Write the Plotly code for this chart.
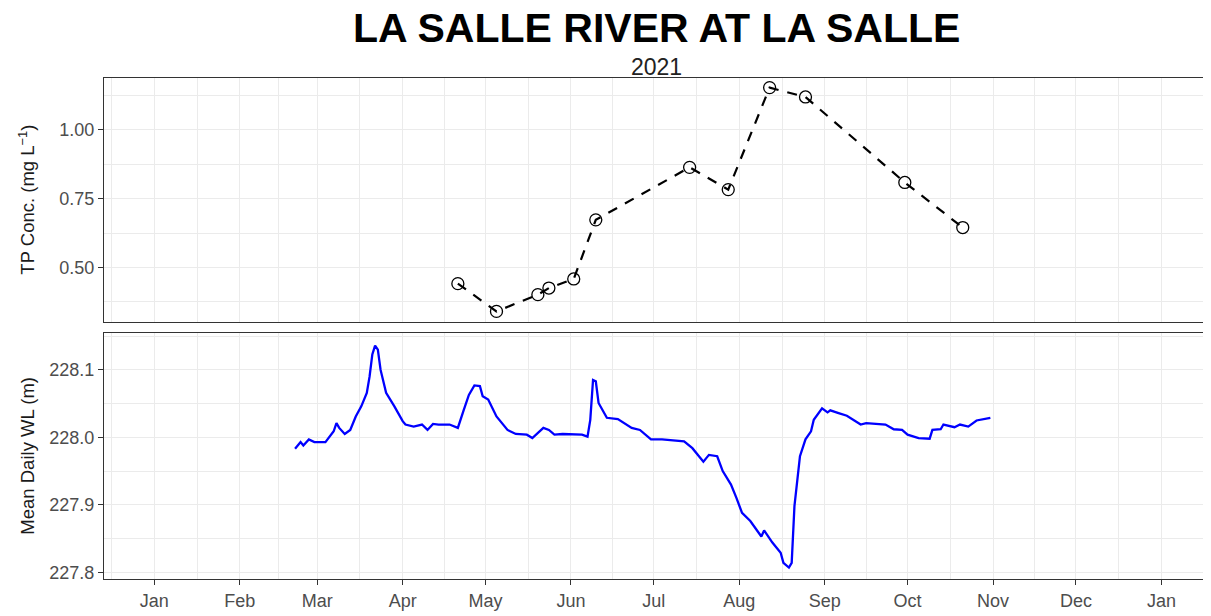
import plotly.graph_objects as go
import pandas as pd

# ---------------- data ----------------
tp_dates = ["2021-04-21", "2021-05-05", "2021-05-20", "2021-05-24", "2021-06-02", "2021-06-10",
            "2021-07-14", "2021-07-28", "2021-08-12", "2021-08-25", "2021-09-30", "2021-10-21"]
tp_values = [0.441, 0.340, 0.401, 0.425, 0.458, 0.673, 0.864, 0.783, 1.154, 1.120, 0.809, 0.645]

wl_dates = ["2021-02-21", "2021-02-23", "2021-02-24", "2021-02-26", "2021-02-28", "2021-03-04",
            "2021-03-07", "2021-03-08", "2021-03-09", "2021-03-11", "2021-03-13", "2021-03-15",
            "2021-03-17", "2021-03-19", "2021-03-20", "2021-03-21", "2021-03-22", "2021-03-23",
            "2021-03-24", "2021-03-26", "2021-03-29", "2021-04-01", "2021-04-02", "2021-04-05",
            "2021-04-08", "2021-04-10", "2021-04-12", "2021-04-14", "2021-04-18", "2021-04-21",
            "2021-04-23", "2021-04-25", "2021-04-27", "2021-04-29", "2021-04-30", "2021-05-02",
            "2021-05-05", "2021-05-09", "2021-05-12", "2021-05-16", "2021-05-18", "2021-05-20",
            "2021-05-22", "2021-05-24", "2021-05-26", "2021-05-29", "2021-06-05", "2021-06-07",
            "2021-06-08", "2021-06-09", "2021-06-10", "2021-06-11", "2021-06-14", "2021-06-18",
            "2021-06-23", "2021-06-26", "2021-06-30", "2021-07-04", "2021-07-12", "2021-07-15",
            "2021-07-19", "2021-07-21", "2021-07-24", "2021-07-26", "2021-07-29", "2021-07-31",
            "2021-08-02", "2021-08-05", "2021-08-09", "2021-08-10", "2021-08-13", "2021-08-16",
            "2021-08-17", "2021-08-19", "2021-08-20", "2021-08-21", "2021-08-22", "2021-08-23",
            "2021-08-25", "2021-08-27", "2021-08-28", "2021-08-31", "2021-09-02", "2021-09-03",
            "2021-09-06", "2021-09-09", "2021-09-14", "2021-09-16", "2021-09-23", "2021-09-26",
            "2021-09-29", "2021-10-01", "2021-10-05", "2021-10-09", "2021-10-10", "2021-10-13",
            "2021-10-14", "2021-10-18", "2021-10-20", "2021-10-23", "2021-10-26", "2021-10-31"]
wl_values = [227.983, 227.993, 227.988, 227.997, 227.993, 227.993,
             228.009, 228.021, 228.014, 228.005, 228.011, 228.031,
             228.046, 228.066, 228.090, 228.123, 228.136, 228.130,
             228.100, 228.066, 228.046, 228.024, 228.019, 228.016,
             228.019, 228.011, 228.020, 228.019, 228.019, 228.014,
             228.039, 228.063, 228.077, 228.076, 228.061, 228.056,
             228.031, 228.011, 228.005, 228.004, 227.999, 228.007,
             228.014, 228.011, 228.004, 228.005, 228.004, 228.001,
             228.026, 228.085, 228.083, 228.051, 228.029, 228.027,
             228.014, 228.011, 227.997, 227.997, 227.994, 227.984,
             227.964, 227.974, 227.972, 227.950, 227.930, 227.910,
             227.888, 227.876, 227.853, 227.862, 227.844, 227.829,
             227.814, 227.807, 227.814, 227.898, 227.937, 227.972,
             227.997, 228.009, 228.026, 228.043, 228.037, 228.040,
             228.036, 228.032, 228.019, 228.021, 228.019, 228.012,
             228.011, 228.004, 227.999, 227.998, 228.011, 228.012,
             228.019, 228.015, 228.019, 228.016, 228.025, 228.029]

month_ticks = ["2021-01-01", "2021-02-01", "2021-03-01", "2021-04-01", "2021-05-01", "2021-06-01",
               "2021-07-01", "2021-08-01", "2021-09-01", "2021-10-01", "2021-11-01", "2021-12-01",
               "2022-01-01"]
month_labels = ["Jan", "Feb", "Mar", "Apr", "May", "Jun", "Jul", "Aug", "Sep", "Oct", "Nov", "Dec", "Jan"]

tp_ticks = [0.50, 0.75, 1.00]
tp_labels = ["0.50", "0.75", "1.00"]
wl_ticks = [227.8, 227.9, 228.0, 228.1]
wl_labels = ["227.8", "227.9", "228.0", "228.1"]

title_text = "LA SALLE RIVER AT LA SALLE"
subtitle_text = "2021"

# ---------------- styling helpers ----------------
ms = pd.date_range("2020-12-01", "2022-02-01", freq="MS")
x_minor = [(ms[i] + (ms[i + 1] - ms[i]) / 2).strftime("%Y-%m-%d %H:%M") for i in range(len(ms) - 1)]
x_range = ["2020-12-13 18:00", "2022-01-18 06:00"]

FONT = "Liberation Sans, Arial, sans-serif"
GRID = "#EBEBEB"
BORDER = "#333333"
TICKTXT = "#4D4D4D"
TICKSIZE = 18

fig = go.Figure()
fig.add_trace(go.Scatter(
    x=tp_dates, y=tp_values, mode="lines+markers",
    line=dict(color="black", width=2.2, dash="10px,9px"),
    marker=dict(symbol="circle-open", size=12, color="black", line=dict(width=1.3, color="black")),
    xaxis="x", yaxis="y", showlegend=False))
fig.add_trace(go.Scatter(
    x=wl_dates, y=wl_values, mode="lines",
    line=dict(color="#0000FF", width=2.3),
    xaxis="x2", yaxis="y2", showlegend=False))

common_x = dict(range=x_range, type="date", tickvals=month_ticks, ticktext=month_labels,
                showgrid=True, gridcolor=GRID, gridwidth=1.2,
                minor=dict(tickvals=x_minor, showgrid=True, gridcolor=GRID, gridwidth=1),
                showline=True, mirror=True, linecolor=BORDER, linewidth=1.3, zeroline=False,
                domain=[0, 1])

fig.update_layout(
    width=1203, height=608,
    margin=dict(l=96, r=2, t=70, b=37),
    paper_bgcolor="white", plot_bgcolor="white",
    font=dict(family=FONT, color=TICKTXT),
    xaxis=dict(common_x, anchor="y", showticklabels=False, ticks=""),
    xaxis2=dict(common_x, anchor="y2", matches="x", ticks="outside", ticklen=5, tickwidth=1.2,
                tickcolor=BORDER, tickfont=dict(size=TICKSIZE, color=TICKTXT, family=FONT)),
    yaxis=dict(domain=[0.513, 1], anchor="x", range=[0.3015, 1.189],
               tickvals=tp_ticks, ticktext=tp_labels, ticks="outside", ticklen=5, tickwidth=1.2,
               tickcolor=BORDER, tickfont=dict(size=TICKSIZE, color=TICKTXT, family=FONT),
               showgrid=True, gridcolor=GRID, gridwidth=1.2,
               minor=dict(tickvals=[0.375, 0.625, 0.875, 1.125], showgrid=True, gridcolor=GRID, gridwidth=1),
               showline=True, mirror=True, linecolor=BORDER, linewidth=1.3, zeroline=False),
    yaxis2=dict(domain=[0, 0.491], anchor="x2", range=[227.790, 228.1547],
                tickvals=wl_ticks, ticktext=wl_labels, ticks="outside", ticklen=5, tickwidth=1.2,
                tickcolor=BORDER, tickfont=dict(size=TICKSIZE, color=TICKTXT, family=FONT),
                showgrid=True, gridcolor=GRID, gridwidth=1.2,
                minor=dict(tickvals=[227.85, 227.95, 228.05, 228.15], showgrid=True, gridcolor=GRID, gridwidth=1),
                showline=True, mirror=True, linecolor=BORDER, linewidth=1.3, zeroline=False),
)

fig.add_annotation(text="<b>" + title_text + "</b>", xref="paper", yref="paper", x=0.5, y=1.099,
                   xanchor="center", yanchor="middle", showarrow=False,
                   font=dict(size=41, color="black", family=FONT))
fig.add_annotation(text=subtitle_text, xref="paper", yref="paper", x=0.5, y=1.022,
                   xanchor="center", yanchor="middle", showarrow=False,
                   font=dict(size=23, color="#222222", family=FONT))
fig.add_annotation(text="TP Conc. (mg L<sup>−1</sup>)", xref="paper", yref="paper",
                   x=-0.0700, y=(0.513 + 1) / 2, textangle=-90, xanchor="center", yanchor="middle",
                   showarrow=False, font=dict(size=18.5, color="#1A1A1A", family=FONT))
fig.add_annotation(text="Mean Daily WL (m)", xref="paper", yref="paper",
                   x=-0.0700, y=0.491 / 2, textangle=-90, xanchor="center", yanchor="middle",
                   showarrow=False, font=dict(size=18.5, color="#1A1A1A", family=FONT))

fig.write_html("out.html")
